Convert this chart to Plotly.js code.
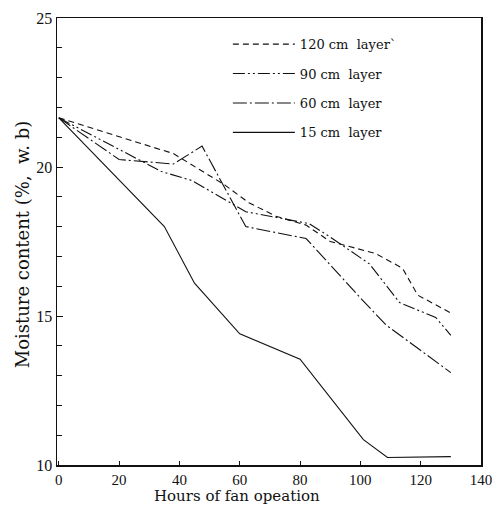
<!DOCTYPE html>
<html>
<head>
<meta charset="utf-8">
<script src="https://cdn.plot.ly/plotly-3.0.1.min.js"></script>
<style>html,body{margin:0;padding:0;background:#fff;}#chart{width:498px;height:505px;}</style>
</head>
<body>
<div id="chart"></div>
<script>
// Hours of fan operation and moisture content (% w.b.) per layer
const hours120 = [0, 38, 55, 63, 72, 82, 90, 105, 114, 119, 130];
const mc120    = [21.65, 20.45, 19.4, 18.8, 18.35, 18.05, 17.5, 17.1, 16.6, 15.7, 15.1];

const hours90 = [0, 34, 44, 62, 83, 90, 103, 113, 125, 130];
const mc90    = [21.65, 19.85, 19.55, 18.5, 18.1, 17.65, 16.75, 15.45, 14.95, 14.35];

const hours60 = [0, 20, 38, 47.5, 62, 82, 101, 108.5, 130];
const mc60    = [21.65, 20.25, 20.1, 20.7, 18.0, 17.6, 15.5, 14.7, 13.1];

const hours15 = [0, 35, 45, 60, 80, 101, 109, 130];
const mc15    = [21.65, 18.0, 16.1, 14.4, 13.55, 10.85, 10.25, 10.28];

const layerNames = ['120 cm  layer`', '90 cm  layer', '60 cm  layer', '15 cm  layer'];
const xTicks = [0, 20, 40, 60, 80, 100, 120, 140];
const yTicks = [10, 15, 20, 25];

const serif = 'Liberation Serif, Times New Roman, serif';
const serif2 = 'DejaVu Serif, serif';

function tr(x, y, name, dash, g) {
  return {x: x, y: y, name: name, type: 'scatter', mode: 'lines',
    legendgroup: g,
    line: {color: '#111', width: 1.1, dash: dash}};
}

const data = [
  tr(hours120, mc120, layerNames[0], '6px,4px', 'a'),
  tr(hours90, mc90, layerNames[1], '12px,3px,2px,3px,2px,3px', 'b'),
  tr(hours60, mc60, layerNames[2], '14px,3px,2px,3px', 'c'),
  tr(hours15, mc15, layerNames[3], 'solid', 'd')
];

const layout = {
  width: 498, height: 505,
  margin: {l: 57, r: 17, t: 18, b: 40},
  paper_bgcolor: '#fff', plot_bgcolor: '#fff',
  showlegend: true,
  legend: {x: 0.403, y: 0.975, xanchor: 'left', yanchor: 'top',
    bgcolor: 'rgba(0,0,0,0)', borderwidth: 0,
    traceorder: 'grouped', tracegroupgap: 9.5, itemwidth: 62,
    font: {family: serif2, size: 13, color: '#111'}},
  xaxis: {range: [-0.6, 140], tickvals: xTicks, ticktext: xTicks.map(String),
    ticks: 'inside', ticklen: 4, tickcolor: '#111', showgrid: false, zeroline: false,
    showline: true, linecolor: '#111', linewidth: 1.5, mirror: true,
    tickfont: {family: serif, size: 15, color: '#111'}},
  yaxis: {range: [10, 25], tickvals: yTicks, ticktext: yTicks.map(String),
    ticks: 'inside', ticklen: 6, tickcolor: '#111', showgrid: false, zeroline: false,
    showline: true, linecolor: '#111', linewidth: 1.5, mirror: true,
    minor: {dtick: 1, ticks: 'inside', ticklen: 5, tickcolor: '#111', showgrid: false},
    tickfont: {family: serif, size: 16, color: '#111'}},
  annotations: [
    {text: 'Hours of fan opeation', xref: 'paper', yref: 'paper', x: (237-57)/424, y: -0.07,
     xanchor: 'center', yanchor: 'middle', showarrow: false,
     font: {family: serif2, size: 15, color: '#111'}},
    {text: 'Moisture content (%,  w. b)', xref: 'paper', yref: 'paper', x: -0.082, y: (465-244)/447,
     xanchor: 'center', yanchor: 'middle', showarrow: false, textangle: -90,
     font: {family: serif2, size: 18, color: '#111'}}
  ]
};

Plotly.newPlot('chart', data, layout, {displayModeBar: false, staticPlot: true});
</script>
</body>
</html>
